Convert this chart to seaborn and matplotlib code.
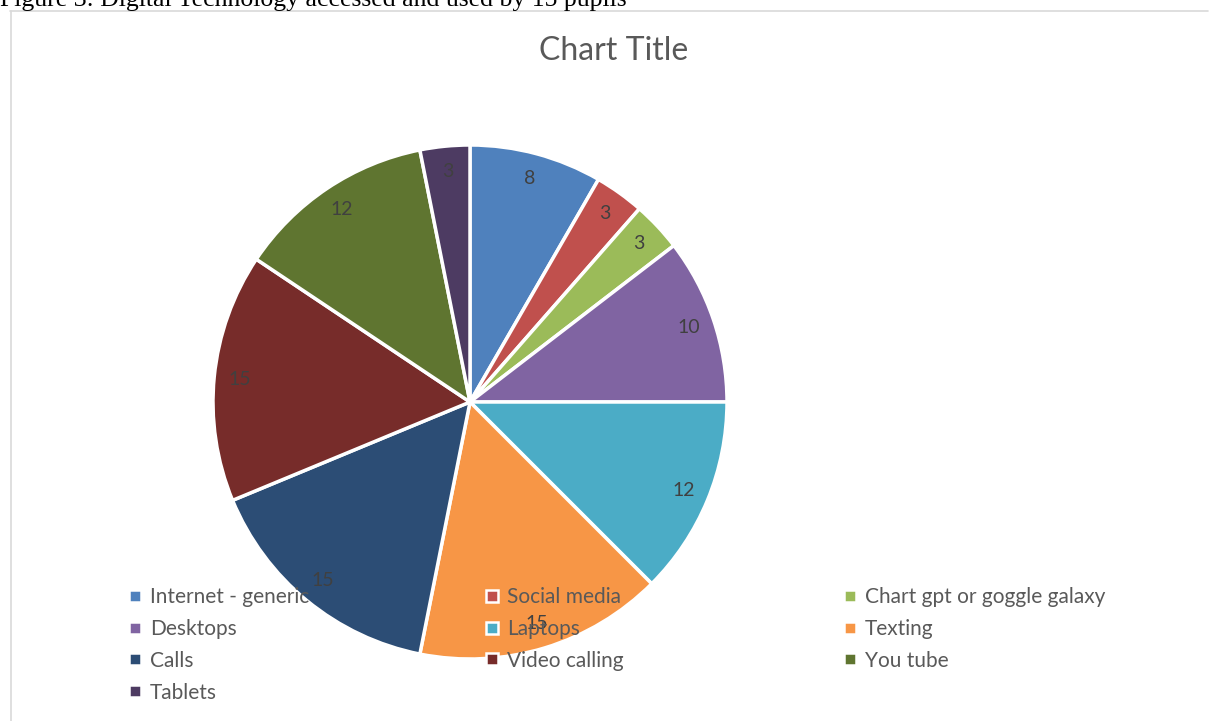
import matplotlib
matplotlib.use("Agg")
import matplotlib.pyplot as plt
from matplotlib.lines import Line2D
import seaborn as sns

sns.set_theme(style="white")
plt.rcParams['font.family'] = ['Lato', 'DejaVu Sans']

categories = ["Internet - generic", "Social media", "Chart gpt or goggle galaxy",
              "Desktops", "Laptops", "Texting", "Calls", "Video calling",
              "You tube", "Tablets"]
values = [8, 3, 3, 10, 12, 15, 15, 15, 12, 3]
colors = ["#4F81BD", "#C0504D", "#9BBB59", "#8064A2", "#4BACC6",
          "#F79646", "#2C4D75", "#772C2A", "#5F7530", "#4D3B62"]
palette = sns.color_palette(colors)

W, H = 1209, 721
fig = plt.figure(figsize=(W / 100, H / 100), dpi=100)

# caption (partly cut off at top)
fig.text(0.0, 1 - 6 / H, "Figure 3: Digital Technology accessed and used by 15 pupils",
         family="Liberation Serif", fontsize=18.5, color="black",
         ha="left", va="baseline")

# chart area border
fig.add_artist(Line2D([10 / W, 1208 / W], [1 - 10.5 / H, 1 - 10.5 / H],
                      transform=fig.transFigure, color="#D9D9D9", lw=1.2))
fig.add_artist(Line2D([10.5 / W, 10.5 / W], [0, 1 - 10.5 / H],
                      transform=fig.transFigure, color="#D9D9D9", lw=1.2))

# pie axes
cx, cy, r = 470, 402, 257
ax = fig.add_axes([(cx - r) / W, (H - cy - r) / H, 2 * r / W, 2 * r / H])
wedges, texts = ax.pie(values, colors=palette, startangle=90, counterclock=False,
                       labels=[str(v) for v in values], labeldistance=0.9,
                       wedgeprops=dict(edgecolor="white", linewidth=2.5),
                       textprops=dict(color="#404040", fontsize=14))
for t in texts:
    t.set_ha("center")
    t.set_va("center")
ax.set_xlim(-1.0, 1.0)
ax.set_ylim(-1.0, 1.0)
ax.set_aspect("equal")
ax.axis("off")

fig.text(614 / W, 1 - 51 / H, "Chart Title", fontsize=23, color="#595959",
         ha="center", va="center")

# legend: 3 equal-width columns, row-major ordering
col_x = [128, 485, 843]
for c in range(3):
    idx = list(range(c, len(categories), 3))
    handles = [Line2D([], [], marker="s", linestyle="none", markersize=8,
                      markerfacecolor=colors[i], markeredgecolor="white",
                      markeredgewidth=1.8) for i in idx]
    leg = fig.legend(handles, [categories[i] for i in idx],
                     loc="upper left", bbox_to_anchor=(col_x[c] / W, 1 - 587 / H),
                     frameon=False, fontsize=15, labelcolor="#595959",
                     handlelength=0.7, handletextpad=0.35, labelspacing=0.57,
                     borderaxespad=0, borderpad=0)

fig.savefig("out.png", dpi=100, facecolor="white")
